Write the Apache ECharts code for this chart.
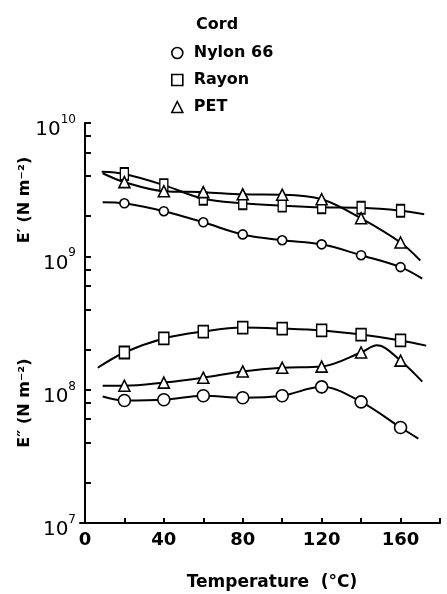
<!DOCTYPE html>
<html>
<head>
<meta charset="utf-8">
<script src="https://cdn.jsdelivr.net/npm/echarts@6/dist/echarts.min.js"></script>
<style>
  html, body { margin: 0; padding: 0; background: #fff; }
  #chart { width: 447px; height: 594px; }
</style>
</head>
<body>
<div id="chart"></div>
<script>
// measured temperatures (°C)
const temps = [20, 40, 60, 80, 100, 120, 140, 160]
const xTicks = [20, 40, 60, 80, 100, 120, 140, 160, 180]
const xLabels = [0, 40, 80, 120, 160]

// E' storage modulus (N m^-2)
const nylonE1 = [2.50e9, 2.18e9, 1.80e9, 1.46e9, 1.32e9, 1.23e9, 1.02e9, 0.83e9]
const rayonE1 = [4.14e9, 3.42e9, 2.70e9, 2.50e9, 2.40e9, 2.33e9, 2.31e9, 2.20e9]
const petE1 = [3.60e9, 3.08e9, 3.03e9, 2.92e9, 2.90e9, 2.68e9, 1.93e9, 1.27e9]

// E'' loss modulus (N m^-2)
const nylonE2 = [8.3e7, 8.4e7, 9.0e7, 8.7e7, 9.0e7, 1.05e8, 8.1e7, 5.2e7]
const rayonE2 = [1.90e8, 2.42e8, 2.73e8, 2.92e8, 2.87e8, 2.78e8, 2.59e8, 2.34e8]
const petE2 = [1.07e8, 1.13e8, 1.23e8, 1.37e8, 1.46e8, 1.49e8, 1.90e8, 1.65e8]

// where the drawn curves run past the markers [T, value]
const nylonE1Curve = [[9, 2.55e9], [171, 6.8e8]]
const rayonE1Curve = [[8.5, 4.3e9], [172, 2.07e9]]
const petE1Curve = [[9, 4.2e9], [170, 0.93e9]]
const nylonE2Curve = [[9, 8.9e7], [169, 4.3e7]]
const rayonE2Curve = [[6.5, 1.46e8], [173, 2.14e8]]
const petE2Curve = [[9, 1.07e8], [148, 2.15e8], [171, 1.15e8]]

// y ticks: decades plus 2,4,6,8 in each decade
const yLabels = [1e7, 1e8, 1e9, 1e10]
const yTicks = []
for (let d = 7; d < 10; d++) {
    [1, 2, 4, 6, 8].forEach((m) => yTicks.push(m * Math.pow(10, d)))
}
yTicks.push(1e10)

const FONT = 'DejaVu Sans'

function makeSeries(name, symbol, size, values, curve) {
    const pts = temps.map((t, i) => ({ value: [t, values[i]] }))
    curve.forEach((p) => pts.push({ value: p, symbol: 'none' }))
    pts.sort((a, b) => a.value[0] - b.value[0])
    return {
        name: name,
        type: 'line',
        smooth: 0.35,
        data: pts,
        symbol: symbol,
        symbolSize: size,
        showAllSymbol: true,
        lineStyle: { color: '#000', width: 2 },
        itemStyle: { color: '#fff', borderColor: '#000', borderWidth: 1.6 },
        emphasis: { disabled: true },
        z: 2
    }
}

const chart = echarts.init(document.getElementById('chart'))

chart.setOption({
    animation: false,
    backgroundColor: '#fff',
    textStyle: { fontFamily: FONT },
    title: {
        text: 'Cord',
        left: 191,
        top: 12,
        textStyle: { fontFamily: FONT, fontSize: 16, fontWeight: 'bold', color: '#000' }
    },
    legend: {
        orient: 'vertical',
        left: 166,
        top: 40,
        itemWidth: 11,
        itemHeight: 11,
        itemGap: 11,
        selectedMode: false,
        textStyle: { fontFamily: FONT, fontSize: 16, fontWeight: 'bold', color: '#000', padding: [0, 0, 0, 6] },
        itemStyle: { color: '#fff', borderColor: '#000', borderWidth: 1.6 },
        data: [
            { name: 'Nylon 66', icon: 'circle' },
            { name: 'Rayon', icon: 'rect' },
            { name: 'PET', icon: 'triangle' }
        ]
    },
    grid: { left: 80, right: 7, top: 123, bottom: 71, outerBoundsMode: 'none' },
    xAxis: {
        type: 'value',
        min: -2.5,
        max: 180,
        axisLine: { lineStyle: { color: '#000', width: 2 } },
        axisTick: { inside: true, length: 5, customValues: xTicks, lineStyle: { color: '#000', width: 2 } },
        axisLabel: {
            customValues: xLabels,
            margin: 8,
            color: '#000',
            fontFamily: FONT,
            fontSize: 18,
            fontWeight: 'bold'
        },
        splitLine: { show: false }
    },
    yAxis: {
        type: 'log',
        logBase: 10,
        min: 1e7,
        max: 1e10,
        axisLine: { show: true, lineStyle: { color: '#000', width: 2 } },
        axisTick: { inside: true, length: 6, customValues: yTicks, lineStyle: { color: '#000', width: 2 } },
        axisLabel: {
            margin: 4,
            customValues: yLabels,
            formatter: (v) => '{b|10}{s|' + Math.round(Math.log10(v)) + '}',
            rich: {
                b: { fontFamily: FONT, fontSize: 20, color: '#000', padding: [14, 0, 0, 0] },
                s: { fontFamily: FONT, fontSize: 12, color: '#000', padding: [0, 0, 6, 0] }
            }
        },
        splitLine: { show: false },
        z: 3
    },
    graphic: [
        {
            type: 'text',
            x: 25,
            y: 200,
            rotation: Math.PI / 2,
            style: { text: 'E′ (N m⁻²)', font: 'bold 16px ' + FONT, fill: '#000', align: 'center', verticalAlign: 'middle' }
        },
        {
            type: 'text',
            x: 25,
            y: 403,
            rotation: Math.PI / 2,
            style: { text: 'E″ (N m⁻²)', font: 'bold 16px ' + FONT, fill: '#000', align: 'center', verticalAlign: 'middle' }
        },
        {
            type: 'text',
            x: 272,
            y: 583,
            style: { text: 'Temperature  (°C)', font: 'bold 17px ' + FONT, fill: '#000', align: 'center', verticalAlign: 'middle' }
        }
    ],
    series: [
        makeSeries('Nylon 66', 'circle', 9, nylonE1, nylonE1Curve),
        makeSeries('Rayon', 'rect', [8, 12], rayonE1, rayonE1Curve),
        makeSeries('PET', 'triangle', 11, petE1, petE1Curve),
        makeSeries('Nylon 66', 'circle', 12, nylonE2, nylonE2Curve),
        makeSeries('Rayon', 'rect', [10, 12], rayonE2, rayonE2Curve),
        makeSeries('PET', 'triangle', 11, petE2, petE2Curve)
    ]
})
</script>
</body>
</html>
